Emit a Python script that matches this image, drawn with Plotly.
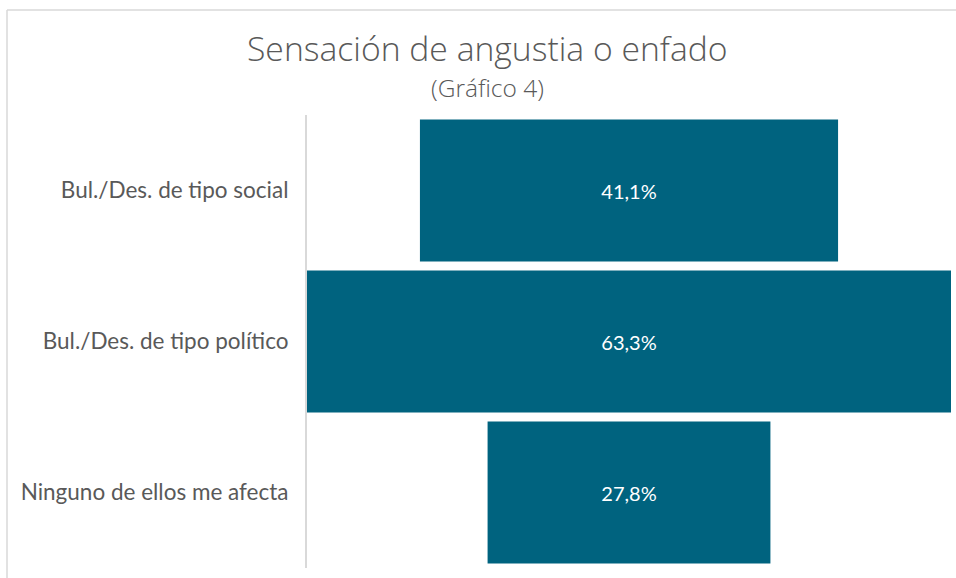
import plotly.graph_objects as go

# Datos del gráfico 4
categorias = ["Bul./Des. de tipo social", "Bul./Des. de tipo político", "Ninguno de ellos me afecta"]
porcentajes = [41.1, 63.3, 27.8]
etiquetas = [f"{v:.1f}".replace(".", ",") + "%" for v in porcentajes]

W, H = 956, 578
ml, mr, mt, mb = 307, 5, 115, 10
pw, ph = W - ml - mr, H - mt - mb

color_barra = "#00637F"
gris_texto = "#595959"
gris_linea = "#D9D9D9"

funnel = go.Funnel(
    y=categorias,
    x=porcentajes,
    text=etiquetas,
    textinfo="text",
    textposition="inside",
    insidetextfont=dict(family="Lato, sans-serif", size=20, color="white"),
    marker=dict(color=color_barra, line=dict(width=0)),
    connector=dict(visible=False),
    hoverinfo="y+x",
)

fig = go.Figure(data=[funnel])

mitad = max(porcentajes) / 2
fig.update_layout(
    width=W, height=H,
    margin=dict(l=ml, r=mr, t=mt, b=mb),
    paper_bgcolor="white",
    plot_bgcolor="white",
    showlegend=False,
    funnelgap=0.06,
    xaxis=dict(visible=False, range=[-mitad, mitad], fixedrange=True),
    yaxis=dict(
        showline=True, linecolor=gris_linea, linewidth=2,
        showgrid=False, ticks="", ticklabelstandoff=12,
        tickfont=dict(family="Lato, sans-serif", size=22.5, color=gris_texto),
    ),
    annotations=[
        dict(text="Sensación de angustia o enfado", xref="paper", yref="paper",
             x=(487 - ml) / pw, y=(H - mb - 48) / ph, xanchor="center", yanchor="middle",
             showarrow=False,
             font=dict(family="Open Sans, sans-serif", size=33.7, weight=300, color=gris_texto)),
        dict(text="(Gráfico 4)", xref="paper", yref="paper",
             x=(487 - ml) / pw, y=(H - mb - 88) / ph, xanchor="center", yanchor="middle",
             showarrow=False,
             font=dict(family="Open Sans, sans-serif", size=24.5, weight=300, color=gris_texto)),
    ],
    shapes=[
        # marco gris claro del gráfico (borde superior e izquierdo)
        dict(type="line", xref="paper", yref="paper",
             x0=(7 - ml) / pw, x1=(W + 5 - ml) / pw,
             y0=(H - mb - 10) / ph, y1=(H - mb - 10) / ph,
             line=dict(color=gris_linea, width=1.5)),
        dict(type="line", xref="paper", yref="paper",
             x0=(7 - ml) / pw, x1=(7 - ml) / pw,
             y0=(H - mb - 10) / ph, y1=(H - mb - H - 5) / ph,
             line=dict(color=gris_linea, width=1.5)),
    ],
)

# sin margen del body para que el gráfico ocupe la ventana exacta
fig.write_html(
    "out.html",
    config={"displayModeBar": False},
    post_script="document.body.style.margin = '0';",
)
